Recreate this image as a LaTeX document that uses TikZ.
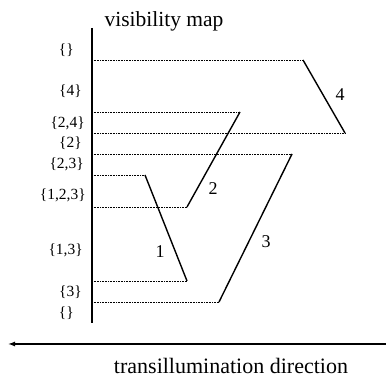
\documentclass[tikz,border=0pt]{standalone}
\usepackage{fontspec}
\setmainfont{Liberation Serif}
\usetikzlibrary{arrows.meta}
\newcommand{\setfontsize}{\fontsize{15.5}{17}\selectfont}
\newcommand{\titlefontsize}{\fontsize{21.5}{24}\selectfont}
\newcommand{\numfontsize}{\fontsize{18}{20}\selectfont}
\tikzset{
  every picture/.style = {line join=round},
  axisline/.style      = {line width=1.3pt},
  segline/.style       = {line width=1.4pt},
  guide/.style         = {line width=0.5pt, dash pattern=on 0.6pt off 1pt},
  setlabel/.style      = {font=\setfontsize, anchor=east, inner sep=0pt},
  seglabel/.style      = {font=\numfontsize, inner sep=0pt},
  dirarrow/.style      = {line width=1.3pt, -{Latex[length=7pt, width=5pt]}},
}

\begin{document}
\begin{tikzpicture}[x=1pt, y=1pt]
  \useasboundingbox (0,0) rectangle (386,377);

  % vertical axis of the visibility map
  \coordinate (axtop) at (92,349);
  \coordinate (axbot) at (92,54);
  \draw[axisline] (axtop) -- (axbot);
  \node[font=\titlefontsize, anchor=base] (title) at (164,350) {visibility map};

  % the four segments (upper end a, lower end b)
  \coordinate (s1a) at (145,202); \coordinate (s1b) at (187,96);
  \coordinate (s2a) at (240,265); \coordinate (s2b) at (187,170);
  \coordinate (s3a) at (292,223); \coordinate (s3b) at (219,75);
  \coordinate (s4a) at (303,317); \coordinate (s4b) at (345,244);

  % dotted projections back onto the axis
  \foreach \p in {s1a,s1b,s2a,s2b,s3a,s3b,s4a,s4b}
    \draw[guide] (\p -| axtop) -- (\p);

  \foreach \i in {1,...,4}
    \draw[segline] (s\i a) -- (s\i b);

  \node[seglabel] (n1) at (160,125) {1};
  \node[seglabel] (n2) at (213,188) {2};
  \node[seglabel] (n3) at (266,135) {3};
  \node[seglabel] (n4) at (340,282) {4};

  % visible sets between the projections
  \foreach \x/\y/\t [count=\k] in {74/327/{\{\}}, 82/286/{\{4\}}, 85/254/{\{2,4\}},
      82/234/{\{2\}}, 84/213/{\{2,3\}}, 86/182/{\{1,2,3\}}, 83/127/{\{1,3\}},
      82/85/{\{3\}}, 74/64/{\{\}}}
    \node[setlabel] (set\k) at (\x,\y) {\t};

  % direction of the light
  \coordinate (dirR) at (386,33);
  \coordinate (dirL) at (8,33);
  \draw[dirarrow] (dirR) -- (dirL);
  \node[font=\fontsize{22}{24}\selectfont, anchor=base] (dirlabel) at (231,3.5) {transillumination direction};
\end{tikzpicture}
\end{document}
